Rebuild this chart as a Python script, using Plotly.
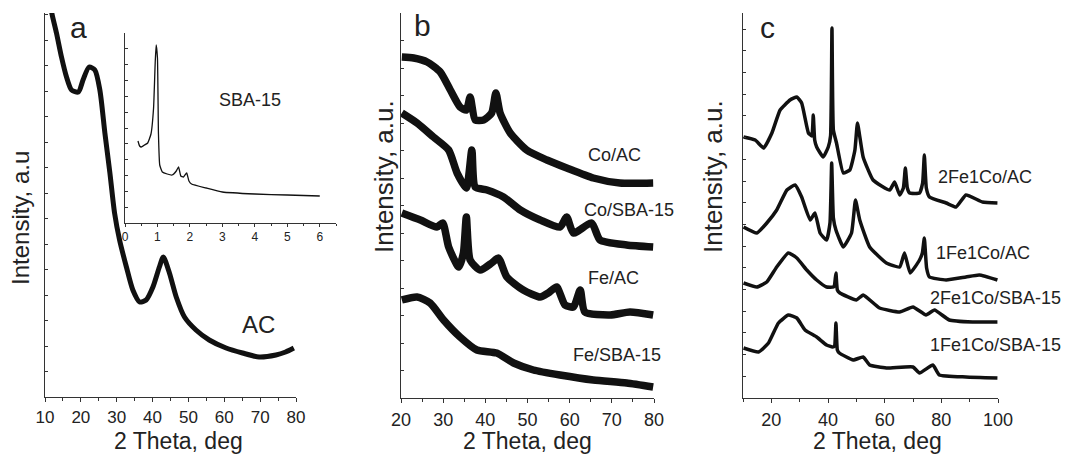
import plotly.graph_objects as go

W, H = 1067, 455

# ---------------- data (y in arbitrary units) -------------
# panel a : AC
a_x = [11.5, 11.9, 13.2, 14.6, 16.0, 17.4, 19.3, 20.6, 22.3, 23.9, 25.3, 26.7, 28.1, 29.4,
       30.8, 32.7, 34.5, 36.4, 38.2, 40.1, 41.9, 43.0, 44.7, 46.6, 48.9, 52.1, 55.8, 60.5,
       65.1, 69.7, 74.4, 77.1, 79.4]
a_y = [395, 384, 364, 340, 320, 307, 305, 317, 330, 327, 307, 264, 224, 184,
       157, 130, 107, 95, 97, 110, 130, 140, 124, 100, 80, 67, 57, 49,
       44, 40, 42, 45, 49]

# inset : SBA-15 low angle
in_x = [0.4, 0.45, 0.5, 0.6, 0.7, 0.8, 0.88, 0.93, 0.96, 1.0, 1.03, 1.07, 1.15, 1.3, 1.45,
        1.58, 1.65, 1.72, 1.8, 1.9, 1.97, 2.05, 2.5, 3.0, 4.0, 5.0, 6.0]
in_y = [82, 77, 76, 78, 80, 89, 115, 160, 178, 165, 90, 58, 51, 49, 48,
        52, 56, 47, 46, 50, 42, 39, 35, 31, 29, 28, 27]

# panel b
b_co_ac_x = [20.2, 23.0, 26.2, 29.3, 31.7, 34.0, 35.5, 36.4, 37.6, 39.6, 41.5, 42.5, 43.5,
             45.9, 49.8, 54.6, 59.3, 65.6, 71.9, 79.8]
b_co_ac_y = [341, 340, 336, 326, 308, 291, 288, 301, 278, 278, 285, 305, 285,
             265, 248, 238, 230, 220, 215, 215]

b_co_sba_x = [20.2, 23.8, 27.7, 31.3, 33.3, 35.5, 36.8, 37.6, 40.4, 44.3, 48.3, 53.0, 57.7,
              59.3, 60.9, 65.2, 67.2, 73.5, 79.8]
b_co_sba_y = [285, 275, 261, 248, 225, 210, 248, 211, 208, 201, 188, 178, 171,
              181, 165, 175, 158, 153, 151]

b_fe_ac_x = [20.2, 24.6, 28.5, 29.9, 31.3, 33.7, 34.8, 35.5, 36.4, 38.8, 41.5, 43.1, 45.1,
             49.0, 53.0, 54.9, 56.9, 58.9, 60.9, 62.5, 63.6, 69.6, 74.3, 79.8]
b_fe_ac_y = [185, 178, 171, 175, 151, 131, 145, 181, 138, 128, 135, 140, 121,
             108, 101, 105, 111, 93, 91, 108, 86, 83, 86, 83]

b_fe_sba_x = [20.2, 23.8, 26.9, 30.1, 34.0, 38.0, 42.7, 46.7, 51.4, 57.7, 65.6, 73.5, 79.8]
b_fe_sba_y = [98, 101, 95, 78, 61, 48, 45, 35, 28, 23, 18, 15, 11]

# panel c
c_21ac_x = [10.2, 14.3, 17.3, 20.2, 23.1, 26.6, 29.0, 30.7, 33.1, 34.3, 34.8, 35.3, 36.0, 38.3,
            40.1, 40.9, 41.4, 41.9, 43.0, 45.4, 47.7, 49.5, 50.4, 52.4, 55.9, 61.8, 63.5,
            65.3, 66.6, 67.3, 68.0, 68.8, 72.3, 73.4, 74.0, 74.7, 75.8, 81.7, 85.2, 88.7,
            94.5, 99.8]
c_21ac_y = [261, 258, 250, 265, 288, 298, 301, 295, 265, 262, 283, 258, 251, 241,
            251, 262, 370, 268, 255, 225, 228, 248, 275, 241, 218, 208, 216,
            203, 210, 230, 210, 205, 205, 215, 243, 210, 201, 195, 191, 203,
            196, 195]

c_11ac_x = [10.2, 14.9, 18.4, 21.9, 25.5, 28.4, 30.7, 33.7, 35.4, 37.2, 39.5, 40.7, 41.3,
            41.9, 42.8, 45.4, 48.3, 49.7, 51.2, 54.7, 60.6, 65.3, 67.0, 69.0, 72.3, 73.3,
            74.0, 74.8, 75.8, 81.7, 88.7, 93.4, 99.8]
c_11ac_y = [171, 165, 175, 188, 208, 213, 201, 178, 185, 165, 158, 175, 235,
            180, 168, 151, 165, 198, 178, 151, 135, 131, 145, 125, 138, 145,
            160, 130, 121, 118, 121, 123, 118]

c_21sba_x = [10.2, 14.9, 18.4, 21.9, 26.0, 29.0, 32.5, 36.0, 39.5, 41.9, 42.3, 42.8, 43.3,
             44.2, 50.0, 52.4, 58.2, 65.3, 70.0, 74.6, 77.6, 82.8, 91.0, 99.8]
c_21sba_y = [115, 111, 116, 131, 145, 140, 128, 118, 111, 111, 113, 125, 108,
             105, 98, 103, 90, 86, 91, 83, 88, 78, 76, 76]

c_11sba_x = [10.2, 15.5, 19.0, 22.5, 26.0, 29.0, 31.9, 36.0, 39.5, 41.6, 42.3, 42.8, 43.3,
             44.0, 48.9, 52.4, 54.7, 60.6, 70.0, 72.3, 77.0, 79.3, 88.7, 99.8]
c_11sba_y = [50, 46, 55, 75, 83, 80, 68, 61, 53, 51, 52, 75, 48,
             45, 38, 41, 33, 30, 31, 25, 33, 23, 21, 20]

b_labels = ["Co/AC", "Co/SBA-15", "Fe/AC", "Fe/SBA-15"]
c_labels = ["2Fe1Co/AC", "1Fe1Co/AC", "2Fe1Co/SBA-15", "1Fe1Co/SBA-15"]

# ---------------- figure -------------------------------------------------------
def fx(p):
    return p / W


def fy(p):
    return 1 - p / H


FONT = "Liberation Sans, Arial, sans-serif"
TXT = "#222222"
LINE = "#111111"

fig = go.Figure()


def add(x, y, xa, ya, w, smooth):
    fig.add_trace(go.Scatter(x=x, y=y, xaxis=xa, yaxis=ya, mode="lines",
                             line=dict(color=LINE, width=w, shape="spline",
                                       smoothing=smooth),
                             hoverinfo="skip", showlegend=False))


add(a_x, a_y, "x", "y", 5, 0.7)
add(in_x, in_y, "x2", "y2", 1.3, 0.4)
for bx, by in [(b_co_ac_x, b_co_ac_y), (b_co_sba_x, b_co_sba_y),
               (b_fe_ac_x, b_fe_ac_y), (b_fe_sba_x, b_fe_sba_y)]:
    add(bx, by, "x3", "y3", 7.5, 0.6)
for cx, cy in [(c_21ac_x, c_21ac_y), (c_11ac_x, c_11ac_y),
               (c_21sba_x, c_21sba_y), (c_11sba_x, c_11sba_y)]:
    add(cx, cy, "x4", "y4", 3.5, 0.4)


def xaxis(dom, rng, anchor, dtick, mdtick, size, ticklen=4, standoff=1):
    return dict(domain=[fx(dom[0]), fx(dom[1])], range=rng, anchor=anchor,
                automargin=False,
                showgrid=False, zeroline=False, showline=True, linecolor="#333",
                linewidth=1, ticks="outside", ticklen=ticklen, tickcolor="#333",
                dtick=dtick, tick0=0, ticklabelstandoff=standoff,
                minor=dict(ticks="outside", dtick=mdtick, ticklen=ticklen - 1,
                           tickcolor="#333", showgrid=False),
                tickfont=dict(family=FONT, size=size, color=TXT), fixedrange=True)


def yaxis(dom, rng, anchor, dtick):
    return dict(domain=[fy(dom[1]), fy(dom[0])], range=rng, anchor=anchor,
                automargin=False,
                showgrid=False, zeroline=False, showline=True, linecolor="#333",
                linewidth=1, ticks="inside", ticklen=3, tickcolor="#333",
                dtick=dtick, tick0=0, showticklabels=False, fixedrange=True)


fig.update_layout(
    template="none",
    width=W, height=H, margin=dict(l=0, r=0, t=0, b=0, pad=0, autoexpand=False),
    paper_bgcolor="white", plot_bgcolor="rgba(0,0,0,0)",
    xaxis=xaxis((45, 296), [10, 80], "y", 10, 5, 17),
    yaxis=yaxis((13, 397), [0, 384], "x", 25.5),
    xaxis2=xaxis((125, 336), [0, 6.5], "y2", 1, 0.5, 12, 3, 0),
    yaxis2=yaxis((33, 223), [0, 190], "x2", 15.83),
    xaxis3=xaxis((401, 654), [20, 80], "y3", 10, 5, 18),
    yaxis3=yaxis((13, 398), [0, 385], "x3", 27.5),
    xaxis4=xaxis((743, 998), [10, 100], "y4", 20, 10, 18),
    yaxis4=yaxis((13, 398), [0, 385], "x4", 21.7),
)


def ann(text, x, y, size, angle=0):
    fig.add_annotation(text=text, x=fx(x), y=fy(y), xref="paper", yref="paper",
                       showarrow=False, xanchor="center", yanchor="middle",
                       textangle=angle, font=dict(family=FONT, size=size, color=TXT))


# panel letters
ann("a", 78, 27, 30)
ann("b", 422, 25, 30)
ann("c", 767, 27, 30)
# inset / curve labels
ann("SBA-15", 250, 100, 18)
ann("AC", 258, 324, 24)
b_pos = [(614, 155), (629, 210), (613, 278), (617, 355)]
for t, (px, py) in zip(b_labels, b_pos):
    ann(t, px, py, 18)
c_pos = [(985, 177), (983, 253), (995, 298), (995, 345)]
for t, (px, py) in zip(c_labels, c_pos):
    ann(t, px, py, 18)
# axis titles
ann("2 Theta, deg", 178, 441, 23)
ann("2 Theta, deg", 527, 441, 23)
ann("2 Theta, deg", 877, 441, 23)
ann("Intensity, a.u", 20, 218, 24, -90)
ann("Intensity, a.u.", 384, 177, 26, -90)
ann("Intensity, a.u.", 713, 177, 26, -90)

# the page body's default 8 px margin would push the figure off the window
fig.write_html("out.html", config={"displayModeBar": False},
               post_script="document.body.style.margin='0px';")
